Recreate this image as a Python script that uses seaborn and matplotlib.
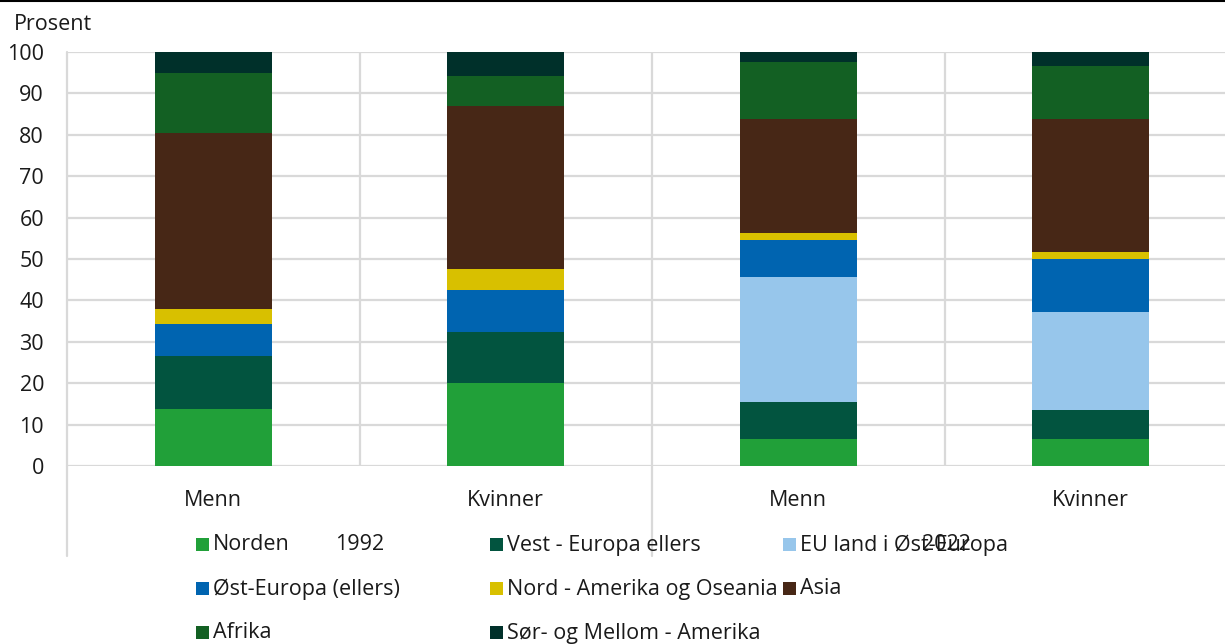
import matplotlib
matplotlib.use("Agg")
import matplotlib.pyplot as plt
from matplotlib.lines import Line2D
from matplotlib.patches import Rectangle
import seaborn as sns
import pandas as pd
import numpy as np

# ---- data ----
bars = ["Menn 1992", "Kvinner 1992", "Menn 2022", "Kvinner 2022"]
bar_labels = ["Menn", "Kvinner", "Menn", "Kvinner"]
years = ["1992", "2022"]
series = ["Norden", "Vest - Europa ellers", "EU land i Øst-Europa",
          "Øst-Europa (ellers)", "Nord - Amerika og Oseania", "Asia",
          "Afrika", "Sør- og Mellom - Amerika"]
norden = [13.8, 20.0, 6.6, 6.6]
vest_europa = [12.7, 12.3, 8.9, 7.0]
eu_ost = [0.0, 0.0, 30.1, 23.5]
ost_europa = [7.9, 10.1, 8.9, 12.9]
nord_amerika = [3.6, 5.2, 1.7, 1.7]
asia = [42.5, 39.4, 27.7, 32.2]
afrika = [14.4, 7.3, 13.6, 12.6]
sor_amerika = [5.1, 5.7, 2.5, 3.5]
yticks = [0, 10, 20, 30, 40, 50, 60, 70, 80, 90, 100]

colors = ["#21a039", "#02543f", "#97c6eb", "#0064b0",
          "#d8c000", "#472716", "#136023", "#00302a"]

values = [norden, vest_europa, eu_ost, ost_europa, nord_amerika, asia, afrika, sor_amerika]

rows = []
for s, vals in zip(series, values):
    for b, v in zip(bars, vals):
        rows.append({"bar": b, "series": s, "value": v})
df = pd.DataFrame(rows)
df["series"] = pd.Categorical(df["series"], categories=series, ordered=True)
df["bar"] = pd.Categorical(df["bar"], categories=bars, ordered=True)
df = df.sort_values(["bar", "series"])
df["top"] = df.groupby("bar", observed=True)["value"].cumsum()

sns.set_theme(style="white")
plt.rcParams["font.family"] = ["Open Sans", "DejaVu Sans"]
FS = 15.5
TXT = "#1a1a1a"

fig = plt.figure(figsize=(12.25, 6.44), dpi=100)
W, H = 1225, 644
x0, x1 = 67, 1237
ytop, ybot = 52, 466
ax = fig.add_axes([x0 / W, (H - ybot) / H, (x1 - x0) / W, (ybot - ytop) / H])

for s, c in reversed(list(zip(series, colors))):
    sub = df[df["series"] == s]
    sns.barplot(data=sub, x="bar", y="top", order=bars, color=c, width=0.4,
                saturation=1, ax=ax, errorbar=None, linewidth=0)

ax.set_xlim(-0.5, 3.5)
ax.set_ylim(0, 100)
ax.set_yticks(yticks)
ax.set_yticklabels([str(t) for t in yticks])
ax.set_xticks(range(len(bars)))
ax.set_xticklabels(bar_labels)
ax.set_xlabel("")
ax.set_ylabel("")
ax.tick_params(axis="both", length=0, labelsize=FS, colors=TXT)
ax.tick_params(axis="y", pad=16.5)
ax.tick_params(axis="x", pad=17)
gc = "#d9d9d9"
ax.set_axisbelow(True)
for t in yticks:
    ax.axhline(t, color=gc, lw=1.6, zorder=0)
for xv in [0.5, 1.5, 2.5]:
    ax.axvline(xv, color=gc, lw=1.6, zorder=0)
for sp in ax.spines.values():
    sp.set_visible(False)
ax.axvline(-0.5, color=gc, lw=1.6, zorder=0, clip_on=False)

# extended separators below the axis
for px in [x0, 652]:
    fig.add_artist(Line2D([px / W, px / W], [(H - 466) / H, (H - 556) / H], color=gc, lw=1.6))

# top rule
fig.add_artist(Line2D([0, 1], [(H - 1) / H, (H - 1) / H], color="black", lw=1.5))

fig.text(14 / W, (H - 25) / H, "Prosent", fontsize=FS, color=TXT, va="center", ha="left")

# year labels
for xc, yl in zip([360, 946], years):
    fig.text(xc / W, (H - 545) / H, yl, fontsize=FS, color=TXT, ha="center", va="center")

# legend (row-major)
colx = [196, 490, 783]
rowy = [545, 589, 633]
for i, (s, c) in enumerate(zip(series, colors)):
    r, k = divmod(i, 3)
    mx, my = colx[k], rowy[r]
    fig.add_artist(Rectangle((mx / W, (H - my - 6) / H), 13 / W, 13 / H,
                             facecolor=c, edgecolor="none", transform=fig.transFigure))
    fig.text((mx + 17) / W, (H - my) / H, s, fontsize=FS, color=TXT, ha="left", va="center")

fig.savefig("out.png", dpi=100)
